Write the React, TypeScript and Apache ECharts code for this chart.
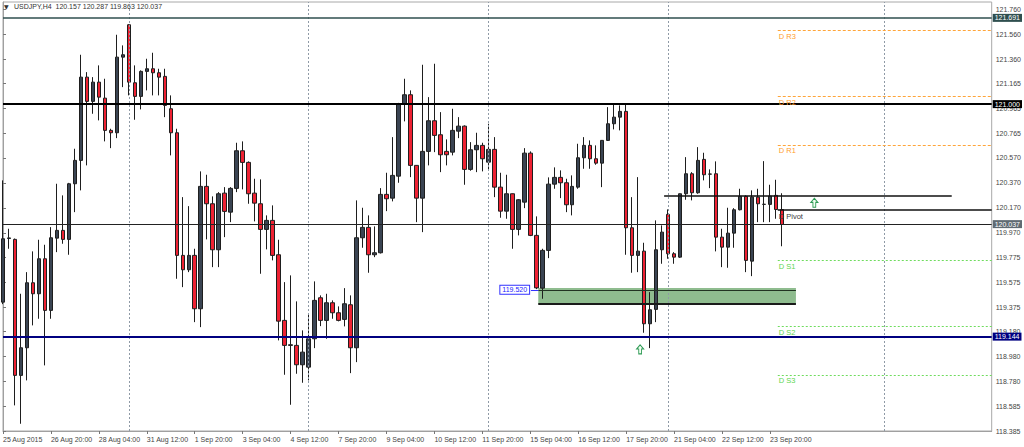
import React, { useEffect, useRef } from "react";
import * as echarts from "echarts";

// ---------- DATA ----------
const symbolHeader = "USDJPY,H4  120.157 120.287 119.863 120.037";

// candles: [open, close, low, high], H4 bars starting 25 Aug 2015 12:00
const week1: number[][] = [
  [119.416, 119.923, 119.4, 120.39],
  [119.925, 119.93, 119.843, 120.003],
  [119.918, 118.83, 118.59, 119.925],
  [118.83, 119.051, 118.443, 119.483],
  [119.051, 119.571, 118.79, 119.656],
  [119.571, 119.483, 119.23, 119.822],
  [119.483, 119.763, 119.283, 119.915],
  [119.763, 119.35, 118.91, 119.875],
  [119.35, 119.931, 119.283, 120.016],
  [119.928, 119.99, 119.816, 120.363],
  [119.99, 119.918, 119.883, 120.27],
  [119.918, 120.363, 119.795, 120.37],
  [120.363, 120.55, 120.136, 120.643],
  [120.55, 121.216, 120.31, 121.395],
  [121.216, 121.022, 120.51, 121.256],
  [121.022, 121.176, 120.923, 121.216],
  [121.176, 121.056, 120.87, 121.31],
  [121.048, 120.79, 120.702, 121.203],
  [120.79, 120.771, 120.648, 120.803],
  [120.771, 121.376, 120.728, 121.555],
  [121.376, 121.395, 121.136, 121.47],
];
const week2: number[][] = [
  [121.635, 121.176, 121.07, 121.64],
  [121.171, 121.062, 120.875, 121.31],
  [121.062, 121.262, 120.958, 121.27],
  [121.262, 121.283, 121.11, 121.363],
  [121.283, 121.251, 121.07, 121.411],
  [121.251, 121.216, 121.07, 121.283],
  [121.222, 120.99, 120.896, 121.283],
  [120.963, 120.771, 120.59, 121.07],
  [120.771, 119.79, 119.603, 120.803],
  [119.79, 119.675, 119.536, 120.256],
  [119.675, 119.79, 119.656, 120.184],
  [119.79, 119.363, 119.256, 119.843],
  [119.363, 120.342, 119.216, 120.462],
  [120.342, 120.203, 119.918, 120.435],
  [120.203, 119.835, 119.696, 120.262],
  [119.835, 120.283, 119.696, 120.296],
  [120.288, 120.142, 119.936, 120.336],
  [120.136, 120.326, 120.056, 120.336],
  [120.326, 120.627, 120.296, 120.691],
  [120.627, 120.534, 120.318, 120.702],
  [120.534, 120.283, 120.203, 120.542],
  [120.288, 120.208, 120.062, 120.403],
  [120.203, 119.998, 119.643, 120.398],
  [119.998, 120.07, 119.838, 120.11],
  [120.07, 119.79, 119.75, 120.19],
  [119.795, 119.264, 119.11, 119.915],
  [119.27, 119.07, 118.835, 119.576],
  [119.07, 119.075, 118.595, 119.63],
  [119.07, 118.915, 118.843, 119.422],
  [118.915, 119.016, 118.771, 119.19],
];
const week3: number[][] = [
  [118.896, 119.123, 118.79, 119.323],
  [119.123, 119.43, 119.048, 119.582],
  [119.451, 119.27, 119.224, 119.47],
  [119.27, 119.411, 119.123, 119.483],
  [119.411, 119.331, 119.283, 119.43],
  [119.331, 119.27, 119.262, 119.382],
  [119.278, 119.403, 119.222, 119.528],
  [119.395, 119.051, 118.848, 119.47],
  [119.051, 119.931, 118.936, 120.23],
  [119.931, 120.014, 119.851, 120.171],
  [120.014, 119.795, 119.651, 120.11],
  [119.795, 119.811, 119.776, 120.022],
  [119.811, 120.278, 119.805, 120.328],
  [120.278, 120.243, 120.144, 120.451],
  [120.248, 120.43, 120.222, 120.736],
  [120.424, 121.003, 120.371, 121.01],
  [121.003, 121.075, 120.862, 121.203],
  [121.075, 120.51, 120.416, 121.11],
  [120.51, 120.248, 120.056, 120.512],
  [120.248, 120.622, 119.976, 121.315],
  [120.622, 120.867, 120.51, 121.056],
  [120.867, 120.75, 120.616, 121.323],
  [120.755, 120.595, 120.456, 120.936],
  [120.622, 120.595, 120.51, 120.718],
  [120.616, 120.79, 120.59, 120.963],
  [120.784, 120.824, 120.728, 120.896],
  [120.824, 120.478, 120.355, 120.83],
  [120.478, 120.635, 120.467, 120.696],
  [120.635, 120.67, 120.456, 120.771],
  [120.67, 120.563, 120.462, 120.691],
];
const week4: number[][] = [
  [120.536, 120.638, 120.47, 120.843],
  [120.638, 120.336, 120.256, 120.736],
  [120.336, 120.144, 120.091, 120.451],
  [120.144, 120.283, 120.083, 120.435],
  [120.283, 119.998, 119.843, 120.285],
  [119.998, 120.235, 119.95, 120.24],
  [120.216, 120.608, 120.168, 120.648],
  [120.608, 119.95, 119.944, 120.622],
  [119.95, 119.53, 119.52, 120.102],
  [119.528, 119.83, 119.443, 119.843],
  [119.83, 120.36, 119.768, 120.414],
  [120.36, 120.414, 120.323, 120.494],
  [120.414, 120.371, 120.248, 120.47],
  [120.371, 120.195, 120.136, 120.403],
  [120.195, 120.342, 120.11, 120.43],
  [120.336, 120.571, 120.323, 120.683],
  [120.571, 120.67, 120.483, 120.736],
  [120.67, 120.563, 120.483, 120.71],
  [120.563, 120.528, 120.515, 120.67],
  [120.528, 120.71, 120.336, 120.712],
  [120.71, 120.843, 120.705, 120.976],
  [120.843, 120.896, 120.798, 120.995],
  [120.896, 120.942, 120.79, 120.99],
  [120.942, 120.011, 119.795, 120.995],
  [120.011, 119.79, 119.651, 120.256],
  [119.79, 119.824, 119.656, 120.416],
  [119.824, 119.243, 119.171, 119.891],
  [119.243, 119.355, 119.048, 119.496],
  [119.358, 119.835, 119.256, 120.07],
  [119.835, 119.976, 119.723, 120.03],
];
const week5: number[][] = [
  [120.118, 119.803, 119.763, 120.158],
  [119.803, 119.776, 119.723, 119.816],
  [119.776, 120.283, 119.77, 120.285],
  [120.283, 120.443, 120.235, 120.576],
  [120.443, 120.291, 120.23, 120.456],
  [120.291, 120.55, 120.283, 120.656],
  [120.558, 120.435, 120.39, 120.611],
  [120.44, 120.441, 120.328, 120.478],
  [120.443, 119.936, 119.822, 120.542],
  [119.936, 119.856, 119.696, 120.003],
  [119.856, 119.968, 119.691, 120.171],
  [119.968, 120.155, 119.851, 120.168],
  [120.155, 120.262, 120.15, 120.323],
  [120.262, 119.75, 119.656, 120.27],
  [119.744, 120.256, 119.624, 120.31],
  [120.256, 120.203, 120.056, 120.323],
  [120.198, 120.199, 120.056, 120.544],
  [120.198, 120.264, 120.056, 120.355],
  [120.27, 120.157, 120.083, 120.395],
  [120.157, 120.037, 119.863, 120.287],
];

const yTickValues = [
  121.76, 121.56, 121.36, 121.165, 120.965, 120.765, 120.57, 120.37, 120.17,
  119.97, 119.775, 119.575, 119.375, 119.18, 118.98, 118.78, 118.585, 118.385,
];

const xTickLabels = [
  "25 Aug 2015", "26 Aug 20:00", "28 Aug 04:00", "31 Aug 12:00", "1 Sep 20:00",
  "3 Sep 04:00", "4 Sep 12:00", "7 Sep 20:00", "9 Sep 04:00", "10 Sep 12:00",
  "11 Sep 20:00", "15 Sep 04:00", "16 Sep 12:00", "17 Sep 20:00", "21 Sep 04:00",
  "22 Sep 12:00", "23 Sep 20:00",
];

// horizontal levels
const levelHigh = 121.691;
const levelRound = 121.0;
const levelBid = 120.037;
const levelLow = 119.144;
const trendLevel = 120.27;
const pivotNames = ["D R3", "D R2", "D R1", "D Pivot", "D S1", "D S2", "D S3"];
const pivotValues = [121.587, 121.062, 120.675, 120.152, 119.75, 119.224, 118.835];
const zoneTop = 119.53;
const zoneLine = 119.515;
const zoneBottom = 119.4;
const zoneLabel = "119.520";
// bar indexes of weekly separators (last one in chart-shift area)
const separatorBars = [21, 51, 81, 111, 147];

// ---------- helpers ----------
const MONTHS = ["Jan", "Feb", "Mar", "Apr", "May", "Jun", "Jul", "Aug", "Sep", "Oct", "Nov", "Dec"];
const SLOTS = 166;
function buildCategories(): string[] {
  const out: string[] = [];
  let t = Date.UTC(2015, 7, 25, 12);
  while (out.length < SLOTS) {
    const d = new Date(t);
    const wd = d.getUTCDay();
    if (wd !== 0 && wd !== 6) {
      const hh = String(d.getUTCHours()).padStart(2, "0");
      out.push(`${d.getUTCDate()} ${MONTHS[d.getUTCMonth()]} ${hh}:00`);
    }
    t += 4 * 3600 * 1000;
  }
  return out;
}

const FONT = "Liberation Sans";
const ARROW = "path://M5,0 L10,5 L7,5 L7,11 L3,11 L3,5 L0,5 Z";

export default function App() {
  const ref = useRef<HTMLDivElement>(null);
  useEffect(() => {
    if (!ref.current) return;
    const chart = echarts.init(ref.current, undefined, { renderer: "svg" });
    const categories = buildCategories();
    const candles = [...week1, ...week2, ...week3, ...week4, ...week5];
    const lastBar = SLOTS - 1;
    const pivotStart = 129.3;

    const showTick = (idx: number) => idx % 8 === 0 && idx / 8 < xTickLabels.length;

    const fullLine = (v: number, color: string, width: number, bg: string) => ({
      yAxis: v,
      lineStyle: { color, width, type: "solid" },
      label: {
        show: true,
        position: "end",
        distance: 1,
        formatter: v.toFixed(3),
        color: "#fff",
        backgroundColor: bg,
        padding: [1, 2, 0, 2],
        fontSize: 7,
        fontFamily: FONT,
      },
    });

    const pivotColor = (name: string) =>
      name === "D Pivot" ? "#111" : name.includes("R") ? "#ffa53a" : "#6fdc5e";
    const pivotTextColor = (name: string) =>
      name === "D Pivot" ? "#3a3a3a" : name.includes("R") ? "#ff9e2c" : "#5ed64e";

    const pivotLines = pivotNames.map((name, i) => {
      const isR = name.includes("R");
      const isP = name === "D Pivot";
      return [
        {
          coord: [pivotStart, pivotValues[i]],
          lineStyle: {
            color: pivotColor(name),
            width: isP ? 1.5 : 1,
            type: isP ? "solid" : isR ? [3, 2] : [2, 2],
          },
          label: { show: false },
        },
        { coord: [lastBar, pivotValues[i]] },
      ];
    });

    const pivotLabels = pivotNames.map((name, i) => ({
      coord: [pivotStart, pivotValues[i]],
      symbol: "rect",
      symbolSize: 0,
      itemStyle: { color: "transparent" },
      label: {
        show: true,
        position: "right",
        distance: 0,
        offset: [1, 6],
        formatter: name,
        color: pivotTextColor(name),
        fontSize: 7.5,
        fontFamily: FONT,
      },
    }));

    const option: any = {
      animation: false,
      backgroundColor: "#ffffff",
      grid: {
        left: 2,
        right: 32,
        top: 2,
        bottom: 16,
        show: true,
        borderColor: "#a8a8a8",
        borderWidth: 1,
      },
      xAxis: [
        {
          type: "category",
          data: categories,
          boundaryGap: false,
          axisLine: { show: true, lineStyle: { color: "#a0a0a0" } },
          axisTick: { show: true, interval: showTick, length: 3, lineStyle: { color: "#777" } },
          axisLabel: {
            show: true,
            interval: showTick,
            formatter: (_v: string, idx: number) => xTickLabels[idx / 8] ?? "",
            align: "left",
            margin: 5,
            fontSize: 7,
            fontFamily: FONT,
            color: "#444",
          },
          splitLine: { show: false },
        },
        {
          type: "value",
          min: 0,
          max: lastBar,
          show: false,
        },
      ],
      yAxis: {
        type: "value",
        position: "right",
        min: 118.385,
        max: 121.817,
        scale: true,
        axisLine: { show: true, lineStyle: { color: "#a0a0a0" } },
        axisTick: { show: true, length: 3, customValues: yTickValues, lineStyle: { color: "#777" } },
        axisLabel: {
          show: true,
          customValues: yTickValues,
          formatter: (v: number) => v.toFixed(3),
          margin: 4,
          fontSize: 7,
          fontFamily: FONT,
          color: "#444",
        },
        splitLine: { show: false },
      },
      graphic: [
        {
          type: "text",
          left: 4,
          top: 3,
          style: { text: "▼", fontSize: 6, fill: "#333", fontFamily: "DejaVu Sans" },
        },
        {
          type: "text",
          left: 14,
          top: 3,
          style: { text: symbolHeader, fontSize: 7, fill: "#333", fontFamily: FONT },
        },
      ],
      series: [
        {
          name: "annotations",
          type: "line",
          xAxisIndex: 1,
          yAxisIndex: 0,
          z: 1,
          data: [[0, 120]],
          symbol: "none",
          lineStyle: { opacity: 0 },
          silent: true,
          markArea: {
            silent: true,
            itemStyle: { color: "#8fbc8f" },
            data: [[{ coord: [89.33, zoneTop] }, { coord: [132.33, zoneBottom] }]],
          },
          markLine: {
            silent: true,
            symbol: ["none", "none"],
            animation: false,
            data: [
              ...separatorBars.map((b) => ({
                xAxis: b,
                lineStyle: { color: "#8f9aa6", width: 1, type: [2, 2] },
                label: { show: false },
              })),
              fullLine(levelHigh, "#2f4f4f", 1.5, "#2f4f4f"),
              fullLine(levelRound, "#000", 2, "#000"),
              fullLine(levelBid, "#222", 1, "#5f6b73"),
              fullLine(levelLow, "#000080", 2, "#000080"),
              [
                { coord: [110.33, trendLevel], lineStyle: { color: "#111", width: 1.5, type: "solid" }, label: { show: false } },
                { coord: [158.33, trendLevel] },
              ],
              [
                { coord: [89.33, zoneLine], lineStyle: { color: "#223322", width: 1, type: "solid" }, label: { show: false } },
                { coord: [132.33, zoneLine] },
              ],
              [
                { coord: [89.33, zoneBottom], lineStyle: { color: "#1a1a1a", width: 2, type: "solid" }, label: { show: false } },
                { coord: [132.33, zoneBottom] },
              ],
              [
                { coord: [88.1, zoneLine], lineStyle: { color: "#3333ff", width: 1, type: "solid" }, label: { show: false } },
                { coord: [89.33, zoneLine] },
              ],
              ...pivotLines,
            ],
          },
          markPoint: {
            silent: true,
            data: [
              {
                coord: [85.4, zoneLine],
                symbol: "rect",
                symbolSize: 1,
                itemStyle: { color: "transparent" },
                label: {
                  show: true,
                  position: "inside",
                  formatter: zoneLabel,
                  color: "#2222ff",
                  backgroundColor: "#ffffff",
                  borderColor: "#3333ff",
                  borderWidth: 1,
                  padding: [1, 2, 0, 2],
                  fontSize: 7,
                  fontFamily: FONT,
                },
              },
              {
                coord: [106.33, 119.038],
                symbol: ARROW,
                symbolSize: [7, 9],
                itemStyle: { color: "#f2fff2", borderColor: "#2e9a55", borderWidth: 1 },
                label: { show: false },
              },
              {
                coord: [135.4, 120.211],
                symbol: ARROW,
                symbolSize: [7, 9],
                itemStyle: { color: "#f2fff2", borderColor: "#2e9a55", borderWidth: 1 },
                label: { show: false },
              },
            ],
          },
        },
        {
          name: "USDJPY",
          type: "candlestick",
          xAxisIndex: 0,
          yAxisIndex: 0,
          z: 3,
          barWidth: 4,
          data: candles,
          itemStyle: {
            color: "#3a4452",
            color0: "#ee2233",
            borderColor: "#1e1e1e",
            borderColor0: "#1e1e1e",
            borderColorDoji: "#1e1e1e",
            borderWidth: 1,
          },
        },
        {
          name: "pivotLabels",
          type: "line",
          xAxisIndex: 1,
          yAxisIndex: 0,
          z: 5,
          data: [[0, 120]],
          symbol: "none",
          lineStyle: { opacity: 0 },
          silent: true,
          markPoint: { silent: true, data: pivotLabels },
        },
      ],
    };
    chart.setOption(option);
    return () => chart.dispose();
  }, []);

  return (
    <div
      ref={ref}
      style={{ position: "fixed", left: 0, top: 0, width: 1024, height: 447, background: "#fff" }}
    />
  );
}
